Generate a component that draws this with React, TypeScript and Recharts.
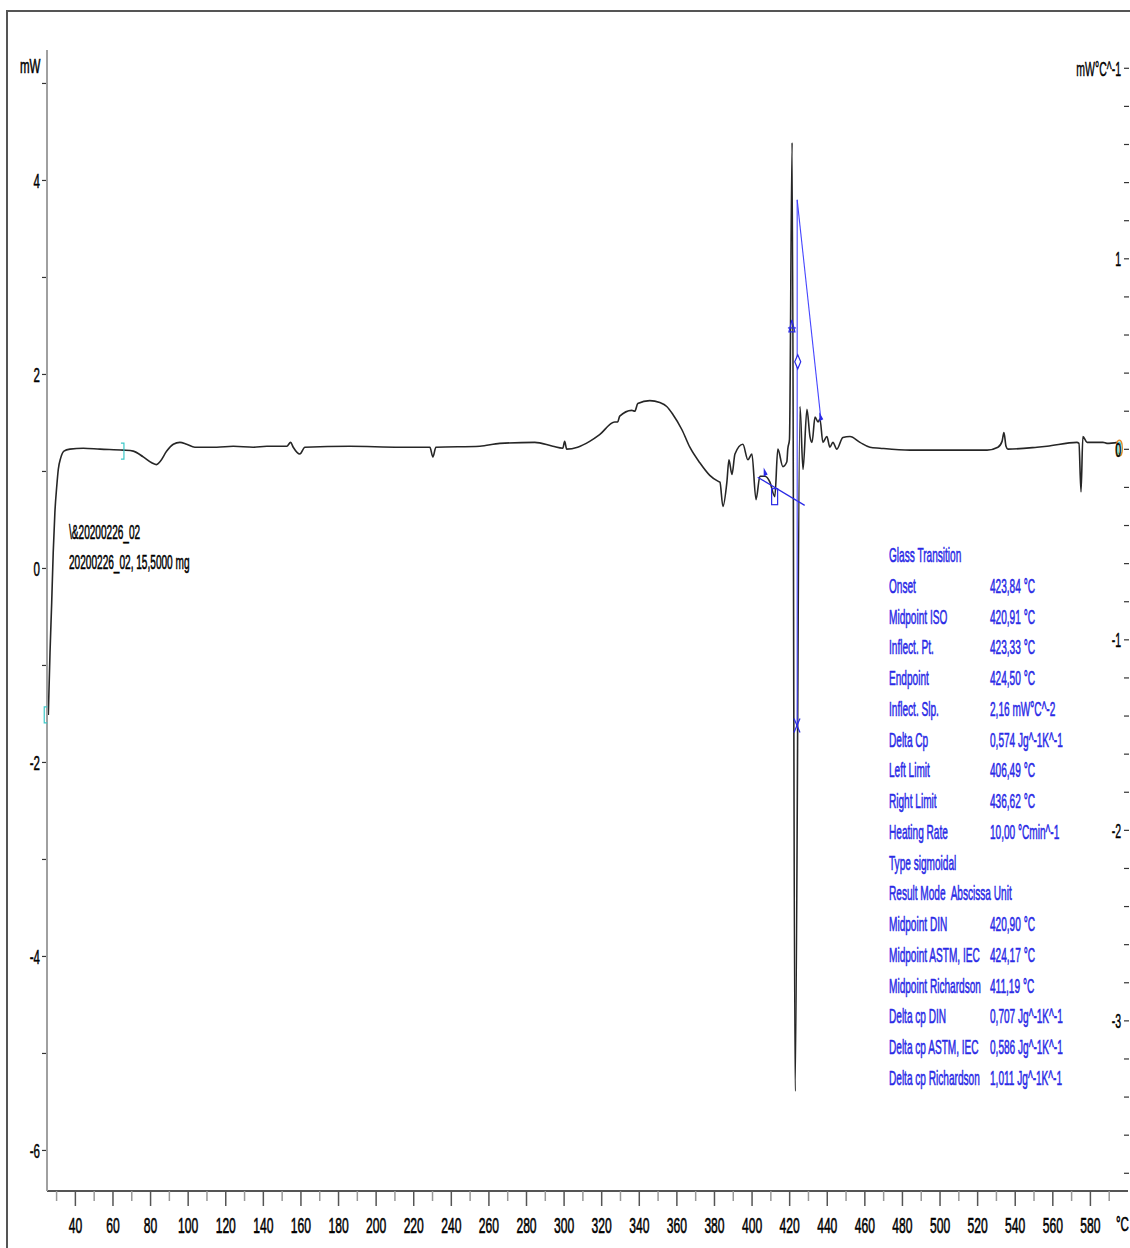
import { ComposedChart, Line, XAxis, YAxis, ReferenceDot } from "recharts";

// DSC curve, temperature in °C and heat flow in mW
const curveT = [
  25.6, 26.5, 27.4, 28.2, 29.1, 30.1, 30.9, 32.2, 33.9, 37.1,
  44.2, 53.1, 65.5, 70.8, 76.1, 80.6, 83.2, 85.0, 88.6, 92.1,
  95.6, 99.2, 103.6, 115.2, 124.0, 134.6, 141.9, 152.5, 154.5, 155.9,
  159.4, 162.1, 186.0, 212.6, 228.6, 230.2, 231.8, 255.2, 265.8, 284.4,
  294.0, 299.3, 300.3, 301.4, 307.2, 313.6, 318.9, 326.9, 328.5, 329.6,
  336.0, 337.6, 339.2, 345.6, 350.9, 354.6, 357.8, 362.7, 366.9, 372.2,
  377.5, 381.8, 382.9, 384.5, 386.6, 387.7, 389.3, 390.9, 395.1, 397.8,
  399.9, 402.1, 404.2, 406.8, 409.5, 412.1, 413.7, 416.4, 418.5, 419.0,
  419.9, 421.3, 422.9, 425.5, 427.1, 429.2, 430.8, 431.9, 433.5, 435.1,
  436.1, 437.7, 439.8, 441.4, 443.0, 445.1, 448.3, 452.1, 457.4, 462.7,
  468.0, 484.0, 505.3, 525.0, 530.8, 533.0, 534.0, 535.1, 536.1, 551.6,
  556.9, 572.8, 573.9, 575.0, 576.0, 578.2, 586.7, 588.8, 594.6,
];
const curveMw = [
  -1.51, -0.87, -0.35, 0.16, 0.58, 0.85, 1.02, 1.14, 1.21, 1.23,
  1.24, 1.23, 1.22, 1.21, 1.15, 1.09, 1.07, 1.10, 1.21, 1.28,
  1.30, 1.28, 1.25, 1.25, 1.26, 1.25, 1.26, 1.26, 1.30, 1.25,
  1.18, 1.25, 1.26, 1.25, 1.25, 1.15, 1.25, 1.26, 1.29, 1.30,
  1.26, 1.24, 1.31, 1.23, 1.25, 1.31, 1.38, 1.51, 1.51, 1.57,
  1.63, 1.62, 1.70, 1.73, 1.71, 1.67, 1.59, 1.43, 1.25, 1.09,
  0.96, 0.90, 0.89, 0.64, 0.89, 1.12, 0.97, 1.18, 1.28, 1.12,
  1.18, 0.71, 0.95, 0.95, 0.89, 0.74, 1.23, 1.05, 1.10, 1.23,
  1.33, 4.39, -5.39, 1.67, 1.02, 1.64, 1.36, 1.30, 1.56, 1.51,
  1.54, 1.30, 1.36, 1.25, 1.30, 1.23, 1.35, 1.36, 1.30, 1.25,
  1.24, 1.22, 1.22, 1.22, 1.25, 1.31, 1.40, 1.26, 1.23, 1.25,
  1.26, 1.30, 1.29, 0.79, 1.36, 1.30, 1.30, 1.29, 1.30,
];

// glass transition construction lines
const baseT = [403.0, 428.0];
const baseMw = [0.94, 0.65];
const tangentT = [424.0, 436.5];
const tangentMw = [3.8, 1.56];
const midT = [424.0, 424.0];
const midMw = [3.8, -1.63];

// evaluation markers
const markerT = [421.2, 424.3, 423.9, 406.7, 436.3, 412.0, 65.3, 24.5, 595.4];
const markerMw = [2.49, 2.13, -1.62, 0.99, 1.56, 0.74, 1.21, -1.51, 1.24];
const markerKind = ["triangle", "diamond", "cross", "flag", "flag", "rect", "bracketR", "bracketL", "ellipse"];

const xTicks = Array.from({ length: 57 }, (_, i) => 30 + i * 10);
const leftTicks = [-6, -5, -4, -3, -2, -1, 0, 1, 2, 3, 4, 5];
const rightTicks = Array.from({ length: 30 }, (_, i) => +(2 - i * 0.2).toFixed(1));

const resultLabels = [
  "Glass Transition", "Onset", "Midpoint ISO", "Inflect. Pt.", "Endpoint", "Inflect. Slp.",
  "Delta Cp", "Left Limit", "Right Limit", "Heating Rate", "Type sigmoidal",
  "Result Mode  Abscissa Unit", "Midpoint DIN", "Midpoint ASTM, IEC", "Midpoint Richardson",
  "Delta cp DIN", "Delta cp ASTM, IEC", "Delta cp Richardson",
];
const resultValues = [
  "", "423,84 °C", "420,91 °C", "423,33 °C", "424,50 °C", "2,16 mW°C^-2",
  "0,574 Jg^-1K^-1", "406,49 °C", "436,62 °C", "10,00 °Cmin^-1", "",
  "", "420,90 °C", "424,17 °C", "411,19 °C",
  "0,707 Jg^-1K^-1", "0,586 Jg^-1K^-1", "1,011 Jg^-1K^-1",
];

const curve = curveT.map((t, i) => ({ t, v: curveMw[i] }));
const toRows = (ts: number[], vs: number[]) => ts.map((t, i) => ({ t, v: vs[i] }));

const FONT = "'Liberation Sans', Arial, sans-serif";
const BLUE = "#2a2ae6";

function XTick({ x, y, payload }: any) {
  const major = payload.value % 20 === 0;
  return (
    <g>
      <line x1={x} x2={x} y1={y} y2={y + (major ? 15 : 10)} stroke={major ? "#555" : "#999"} strokeWidth={1.5} />
      {major && (
        <text transform={`translate(${x},${y + 42}) scale(0.55,1)`} textAnchor="middle" fontSize={22} fontFamily={FONT} fill="#000" stroke="#000" strokeWidth={0.6}>
          {payload.value}
        </text>
      )}
    </g>
  );
}

function LeftTick({ x, y, payload }: any) {
  const v = payload.value;
  return (
    <g>
      <line x1={x - 5} x2={x - 1} y1={y} y2={y} stroke="#333" strokeWidth={1.2} />
      {v % 2 === 0 && (
        <text transform={`translate(${x - 7},${y + 7.5}) scale(0.55,1)`} textAnchor="end" fontSize={21} fontFamily={FONT} fill="#000" stroke="#000" strokeWidth={0.5}>
          {v}
        </text>
      )}
    </g>
  );
}

function RightTick({ x, y, payload }: any) {
  const v = payload.value;
  const whole = Math.abs(v - Math.round(v)) < 1e-6;
  const label = v === 2 ? "mW°C^-1" : whole ? String(Math.round(v)) : "";
  return (
    <g>
      <line x1={x - 4} x2={x + 1} y1={y} y2={y} stroke="#333" strokeWidth={1.2} />
      {label && (
        <text transform={`translate(${x - 7},${y + 7.5}) scale(0.5,1)`} textAnchor="end" fontSize={21} fontFamily={FONT} fill="#000" stroke="#000" strokeWidth={0.5}>
          {label}
        </text>
      )}
    </g>
  );
}

function markerShape(kind: string) {
  return ({ cx, cy }: any) => {
    if (kind === "triangle")
      return (
        <g stroke={BLUE} fill="none" strokeWidth={1.2}>
          <polygon points={`${cx},${cy - 7} ${cx - 3},${cy + 5} ${cx + 3},${cy + 5}`} />
          <line x1={cx - 4} x2={cx + 4} y1={cy + 1} y2={cy + 1} />
        </g>
      );
    if (kind === "diamond")
      return <polygon points={`${cx},${cy - 7} ${cx + 3},${cy} ${cx},${cy + 7} ${cx - 3},${cy}`} stroke={BLUE} fill="#fff" strokeWidth={1.2} />;
    if (kind === "cross")
      return (
        <g stroke={BLUE} strokeWidth={1.2}>
          <line x1={cx - 3} y1={cy - 7} x2={cx + 3} y2={cy + 7} />
          <line x1={cx + 3} y1={cy - 7} x2={cx - 3} y2={cy + 7} />
        </g>
      );
    if (kind === "flag")
      return <polygon points={`${cx - 1},${cy - 5} ${cx + 3},${cy + 2} ${cx - 1},${cy + 4}`} fill={BLUE} />;
    if (kind === "rect")
      return <rect x={cx - 3} y={cy - 8} width={6} height={16} stroke={BLUE} fill="none" strokeWidth={1.2} />;
    if (kind === "bracketR")
      return <path d={`M${cx - 2},${cy - 8} H${cx + 1} V${cy + 8} H${cx - 2}`} stroke="#3cc8c8" fill="none" strokeWidth={1.2} />;
    if (kind === "bracketL")
      return <path d={`M${cx + 1},${cy - 8} H${cx - 2} V${cy + 8} H${cx + 1}`} stroke="#3cc8c8" fill="none" strokeWidth={1.2} />;
    return (
      <g fill="none" strokeWidth={1.3}>
        <ellipse cx={cx} cy={cy} rx={3} ry={8} stroke="#e08a2a" />
        <ellipse cx={cx} cy={cy} rx={1.5} ry={6} stroke="#3cc8c8" />
      </g>
    );
  };
}

function Squeezed({ x, y, text, color = "#000", scale = 0.48 }: any) {
  return (
    <div
      style={{
        position: "absolute",
        left: x,
        top: y - 13,
        fontSize: 21,
        lineHeight: "24px",
        fontFamily: FONT,
        color,
        whiteSpace: "pre",
        transform: `scaleX(${scale})`,
        transformOrigin: "0 50%",
        WebkitTextStroke: `0.6px ${color}`,
      }}
    >
      {text}
    </div>
  );
}

export default function App() {
  return (
    <div style={{ position: "absolute", left: 0, top: 0, width: 1130, height: 1248, background: "#fff", overflow: "hidden" }}>
      <div style={{ position: "absolute", left: 6, top: 10, width: 1130, height: 1248, borderTop: "2px solid #555", borderLeft: "2px solid #555" }} />
      <ComposedChart width={1130} height={1248} margin={{ top: 50, right: 0, bottom: 7, left: 7 }} style={{ position: "absolute", left: 0, top: 0 }}>
        <XAxis
          type="number"
          dataKey="t"
          domain={[24.9, 600]}
          ticks={xTicks}
          interval={0}
          allowDataOverflow
          tickLine={false}
          tickSize={0}
          tickMargin={0}
          axisLine={{ stroke: "#555", strokeWidth: 2 }}
          height={50}
          tick={(p: any) => <XTick {...p} />}
        />
        <YAxis
          yAxisId="l"
          type="number"
          domain={[-6.418, 5.345]}
          ticks={leftTicks}
          interval={0}
          allowDataOverflow
          width={40}
          tickLine={false}
          tickSize={0}
          tickMargin={0}
          axisLine={{ stroke: "#a0a0a0", strokeWidth: 2 }}
          tick={(p: any) => <LeftTick {...p} />}
        />
        <YAxis
          yAxisId="r"
          orientation="right"
          type="number"
          domain={[-3.893, 2.096]}
          ticks={rightTicks}
          interval={0}
          allowDataOverflow
          width={2}
          tickLine={false}
          tickSize={0}
          tickMargin={0}
          axisLine={false}
          tick={(p: any) => <RightTick {...p} />}
        />
        <Line yAxisId="l" data={curve} dataKey="v" type="monotone" stroke="#262626" strokeWidth={1.6} dot={false} isAnimationActive={false} />
        <Line yAxisId="l" data={toRows(baseT, baseMw)} dataKey="v" type="linear" stroke={BLUE} strokeWidth={1.3} dot={false} isAnimationActive={false} />
        <Line yAxisId="l" data={toRows(tangentT, tangentMw)} dataKey="v" type="linear" stroke="#4646ff" strokeWidth={1.1} dot={false} isAnimationActive={false} />
        <Line yAxisId="l" data={toRows(midT, midMw)} dataKey="v" type="linear" stroke="#4646ff" strokeWidth={1.1} dot={false} isAnimationActive={false} />
        {markerT.map((t, i) => (
          <ReferenceDot key={i} yAxisId="l" x={t} y={markerMw[i]} ifOverflow="visible" shape={markerShape(markerKind[i])} />
        ))}
      </ComposedChart>
      <Squeezed x={20} y={67} text="mW" scale={0.55} />
      <Squeezed x={1116} y={1225} text="°C" scale={0.55} />
      <Squeezed x={69} y={533} text={"\\&20200226_02"} />
      <Squeezed x={69} y={563} text="20200226_02, 15,5000 mg" />
      {resultLabels.map((label, i) => (
        <div key={label}>
          <Squeezed x={889} y={556 + i * 30.76} text={label} color={BLUE} />
          {resultValues[i] && <Squeezed x={990} y={556 + i * 30.76} text={resultValues[i]} color={BLUE} />}
        </div>
      ))}
    </div>
  );
}
